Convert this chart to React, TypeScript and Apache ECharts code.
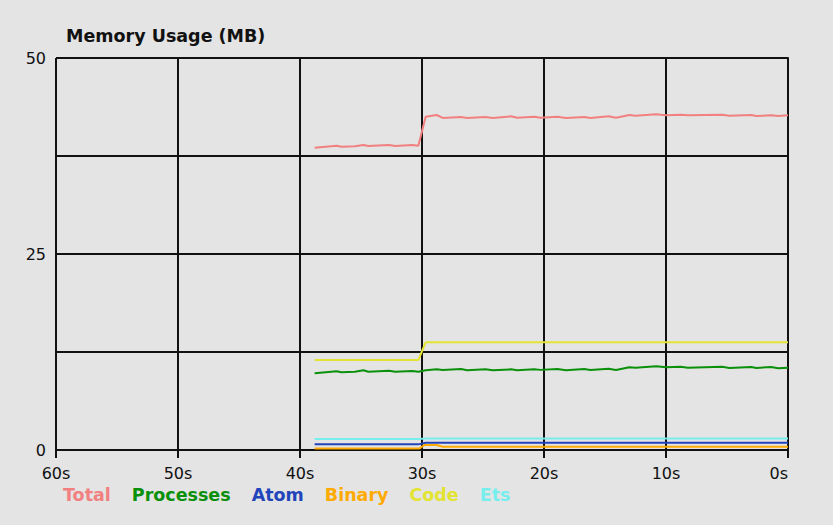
import {useEffect, useRef} from 'react';
import * as echarts from 'echarts';

// seconds ago for the sampled (wiggly) series
const wiggleSeconds = [
    38.8, 37.0, 36.6, 35.5, 34.8, 34.4, 32.7, 32.2, 30.8, 30.3,
    29.7, 28.8, 28.3, 26.8, 26.3, 24.8, 24.2, 22.7, 22.2, 20.8,
    20.3, 18.9, 18.2, 16.7, 16.2, 14.7, 14.1, 13.0, 12.5, 10.8,
    10.0, 8.8, 8.2, 5.4, 4.8, 3.0, 2.6, 1.4, 0.8, 0
];
const totalMB = [
    38.56, 38.81, 38.69, 38.74, 38.9, 38.78, 38.9, 38.78, 38.9, 38.81,
    42.51, 42.73, 42.35, 42.47, 42.35, 42.47, 42.35, 42.56, 42.39, 42.51,
    42.39, 42.51, 42.35, 42.47, 42.35, 42.56, 42.39, 42.73, 42.64, 42.82,
    42.69, 42.77, 42.69, 42.77, 42.64, 42.73, 42.6, 42.69, 42.6, 42.69
];
const processesMB = [
    9.78, 10.04, 9.91, 9.98, 10.17, 9.99, 10.11, 9.99, 10.08, 9.99,
    10.17, 10.29, 10.2, 10.33, 10.17, 10.29, 10.17, 10.29, 10.17, 10.29,
    10.22, 10.33, 10.17, 10.33, 10.2, 10.37, 10.2, 10.55, 10.5, 10.67,
    10.55, 10.63, 10.5, 10.63, 10.46, 10.59, 10.46, 10.59, 10.42, 10.5
];
// flat series with a single step near 30s
const stepSeconds = [38.8, 30.3, 29.7, 0];
const codeMB = [11.48, 11.48, 13.73, 13.73];
const etsMB = [1.4, 1.4, 1.47, 1.47];
const atomMB = [0.72, 0.72, 0.93, 0.93];
const binarySeconds = [38.8, 30.2, 29.8, 28.8, 28.3, 0];
const binaryMB = [0.2, 0.2, 0.64, 0.64, 0.42, 0.42];

const seriesNames = ['Total', 'Processes', 'Atom', 'Binary', 'Code', 'Ets'];
const seriesColors = ['#f28080', '#0a900a', '#2244bb', '#ffaa00', '#e3e333', '#77eeee'];

const xTicks = [0, 10, 20, 30, 40, 50, 60];
const yLabelValues = [0, 25, 50];

const FONT = 'DejaVu Sans';

function zip(xs: number[], ys: number[]): number[][] {
    return xs.map((x, i) => [x, ys[i]]);
}

export default function App() {
    const ref = useRef<HTMLDivElement | null>(null);

    useEffect(() => {
        if (!ref.current) return;
        const chart = echarts.init(ref.current, null, {renderer: 'svg'});
        const dataFor: Record<string, number[][]> = {
            Total: zip(wiggleSeconds, totalMB),
            Processes: zip(wiggleSeconds, processesMB),
            Atom: zip(stepSeconds, atomMB),
            Binary: zip(binarySeconds, binaryMB),
            Code: zip(stepSeconds, codeMB),
            Ets: zip(stepSeconds, etsMB)
        };

        chart.setOption({
            animation: false,
            backgroundColor: '#e4e4e4',
            title: {
                text: 'Memory Usage (MB)',
                left: 66,
                top: 27,
                padding: 0,
                textStyle: {fontFamily: FONT, fontSize: 17.5, fontWeight: 'bold', color: '#111'}
            },
            legend: {
                left: 53,
                top: 481,
                icon: 'none',
                itemWidth: 0,
                itemGap: 16,
                selectedMode: false,
                data: seriesNames.map((name, i) => ({
                    name,
                    textStyle: {color: seriesColors[i], fontFamily: FONT, fontSize: 17.5, fontWeight: 'bold'}
                }))
            },
            grid: {left: 56, right: 45, top: 58, bottom: 75},
            xAxis: {
                type: 'value',
                inverse: true,
                min: xTicks[0],
                max: xTicks[xTicks.length - 1],
                interval: 10,
                axisLine: {lineStyle: {color: '#111', width: 2}},
                axisTick: {show: true, length: 8, lineStyle: {color: '#111', width: 2}},
                splitLine: {show: true, lineStyle: {color: '#111', width: 2}},
                axisLabel: {
                    formatter: (v: number) => `${v}s`,
                    alignMinLabel: 'right',
                    margin: 15,
                    color: '#111',
                    fontFamily: FONT,
                    fontSize: 16
                }
            },
            yAxis: {
                type: 'value',
                min: 0,
                max: 50,
                interval: 12.5,
                axisLine: {show: true, lineStyle: {color: '#111', width: 2}},
                axisTick: {show: false},
                splitLine: {show: true, lineStyle: {color: '#111', width: 2}},
                axisLabel: {
                    formatter: (v: number) => (yLabelValues.includes(v) ? String(v) : ''),
                    margin: 10,
                    color: '#111',
                    fontFamily: FONT,
                    fontSize: 16
                }
            },
            series: seriesNames.map((name, i) => ({
                name,
                type: 'line',
                data: dataFor[name],
                showSymbol: false,
                symbol: 'none',
                color: seriesColors[i],
                lineStyle: {color: seriesColors[i], width: 2}
            }))
        });

        return () => chart.dispose();
    }, []);

    return (
        <div
            ref={ref}
            style={{position: 'fixed', left: 0, top: 0, width: 833, height: 525, background: '#e4e4e4'}}
        />
    );
}
